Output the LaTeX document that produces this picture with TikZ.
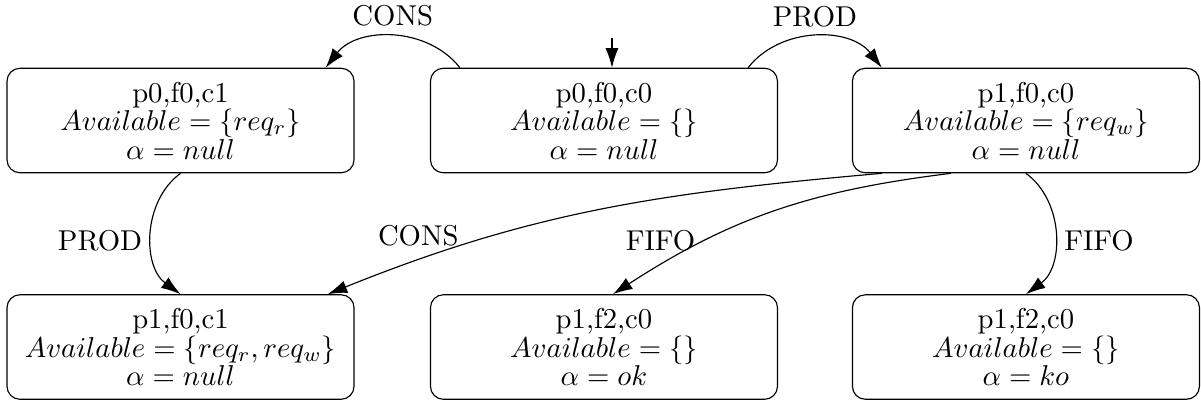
\documentclass[tikz,border=0pt]{standalone}
\usepackage{tikz}
\usetikzlibrary{arrows.meta,calc}

\begin{document}
\begin{tikzpicture}[>={Latex[length=6.8pt,width=4.5pt]},
  stbox/.style={draw,rounded corners=4.5pt,align=center,minimum width=4.25cm,minimum height=1.28cm,inner sep=0pt,font=\fontsize{10}{9.9}\selectfont}]
\useasboundingbox (0,0) rectangle (14.709,-4.911);
\node[stbox] (s1) at (2.211,-1.476) {p0,f0,c1\\ $Available = \{req_r\}$\\ $\alpha = null$};
\node[stbox] (s0) at (7.397,-1.476) {p0,f0,c0\\ $Available = \{\}$\\ $\alpha = null$};
\node[stbox] (s2) at (12.565,-1.476) {p1,f0,c0\\ $Available = \{req_w\}$\\ $\alpha = null$};
\node[stbox] (s3) at (2.211,-4.25) {p1,f0,c1\\ $Available = \{req_r, req_w\}$\\ $\alpha = null$};
\node[stbox] (s4) at (7.397,-4.25) {p1,f2,c0\\ $Available = \{\}$\\ $\alpha = ok$};
\node[stbox] (s5) at (12.565,-4.25) {p1,f2,c0\\ $Available = \{\}$\\ $\alpha = ko$};
\coordinate (init) at (7.495,-0.465);
\draw[->] (init) -- (init |- s0.north);
\draw[->] ([xshift=0.367cm]s0.north west) to[bend right=52] node[above]{CONS} ([xshift=-0.355cm]s1.north east);
\draw[->] ([xshift=-0.367cm]s0.north east) to[bend left=52] node[above]{PROD} ([xshift=0.367cm]s2.north west);
\draw[->] (s1.south) to[bend right=54] node[pos=.55,left]{PROD} (s3.north);
\draw[->] ([xshift=0.367cm]s2.south west) to[out=185,in=22] node[pos=.77,above left,inner sep=0pt]{CONS} ([xshift=-0.33cm]s3.north east);
\draw[->] ([xshift=1.212cm]s2.south west) to[out=187,in=33] node[pos=.72,left]{FIFO} ([xshift=0.11cm]s4.north);
\draw[->] (s2.south) to[bend left=54] node[pos=.55,right]{FIFO} (s5.north);
\end{tikzpicture}
\end{document}
